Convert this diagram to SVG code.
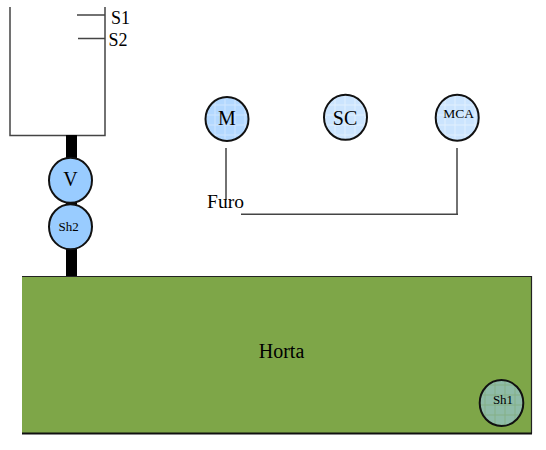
<svg xmlns="http://www.w3.org/2000/svg" width="546" height="450" viewBox="0 0 546 450">
<style>
text{font-family:"Liberation Serif","Times New Roman",serif;fill:#000;text-anchor:middle}
.l{stroke:#444;stroke-width:1.5;fill:none}
.c{stroke:#111;stroke-width:2}
.solid{fill:#99ccff}
.grid{fill:url(#g)}
.grid1{fill:url(#g1)}
.grid2{fill:url(#g2)}
</style>
<defs>
<pattern id="g" patternUnits="userSpaceOnUse" width="10" height="10">
<rect width="10" height="10" fill="#cbe4fe"/>
<path d="M5 0V10M0 5H10" stroke="#e2f0ff" stroke-width="1"/>
</pattern>
<pattern id="g1" patternUnits="userSpaceOnUse" width="10" height="10">
<rect width="10" height="10" fill="#b3d8ff"/>
<path d="M5 0V10M0 5H10" stroke="#d0e6ff" stroke-width="1"/>
</pattern>
<pattern id="g2" patternUnits="userSpaceOnUse" width="10" height="10">
<rect width="10" height="10" fill="#8fbca8"/>
<path d="M5 0V10M0 5H10" stroke="#85b087" stroke-width="1"/>
</pattern>
</defs>
<g id="connectors">
<path class="l" d="M10 7V135.500H105V7"/>
<path class="l" d="M77 15H105M78 38.500H105"/>
<rect x="66" y="135" width="11" height="142" fill="#000"/>
<path class="l" d="M226 148V200M457 148V214.300M241 214.300H458"/>
</g>
<g id="horta">
<rect x="22" y="276.500" width="510" height="157" fill="#7ea648"/>
<path d="M22 276.500H531.500V433.500" fill="none" stroke="#222" stroke-width="1.200"/>
<path d="M22 433.500H532" fill="none" stroke="#111" stroke-width="2"/>
<text x="281.500" y="357.500" font-size="20">Horta</text>
</g>
<g id="v"><ellipse class="c solid" cx="70.500" cy="180.300" rx="21.500" ry="22.500"/><text x="70.500" y="185.500" font-size="20">V</text></g>
<g id="sh2"><ellipse class="c solid" cx="70.500" cy="226.700" rx="21.500" ry="22.500"/><text x="68.700" y="230.500" font-size="13">Sh2</text></g>
<g id="m"><ellipse class="c grid1" cx="227" cy="119" rx="21.500" ry="22"/><text x="227" y="125" font-size="20">M</text></g>
<g id="sc"><ellipse class="c grid" cx="345.500" cy="117.300" rx="21.500" ry="22.500"/><text x="345" y="124.500" font-size="20">SC</text></g>
<g id="mca"><ellipse class="c grid" cx="457.200" cy="117.700" rx="21.500" ry="23"/><text x="458.700" y="118" font-size="13.500">MCA</text></g>
<g id="sh1"><ellipse class="c grid2" cx="501.500" cy="403" rx="21.800" ry="23"/><text x="503" y="404" font-size="13">Sh1</text></g>
<g id="s1"><text x="120.500" y="23.500" font-size="18">S1</text></g>
<g id="s2"><text x="118" y="46" font-size="18">S2</text></g>
<g id="furo"><text x="225.500" y="207.500" font-size="19.500">Furo</text></g>
</svg>
